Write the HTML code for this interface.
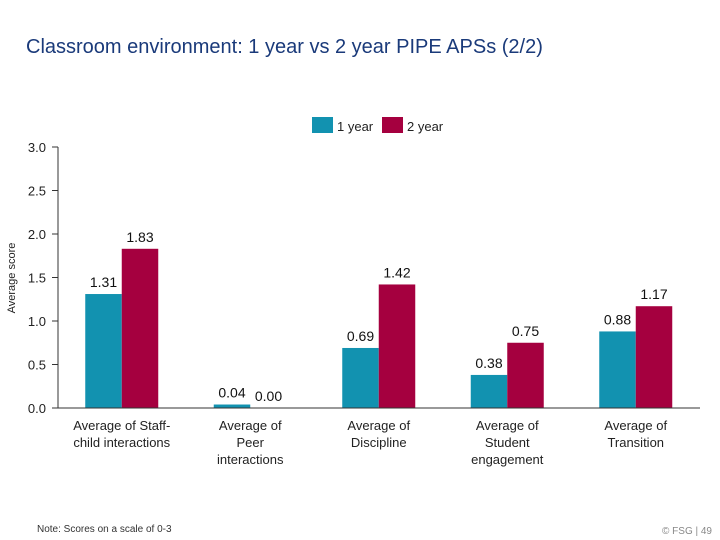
<!DOCTYPE html>
<html><head><meta charset="utf-8"><style>
body{margin:0;background:#fff;font-family:"Liberation Sans",sans-serif}
#c{position:relative;width:720px;height:540px;overflow:hidden}
</style></head><body>
<div id="c">
<svg id="s" width="720" height="540" xmlns="http://www.w3.org/2000/svg">
<text x="26" y="53" font-size="20" fill="#1a3a7a" font-family="Liberation Sans">Classroom environment: 1 year vs 2 year PIPE APSs (2/2)</text>
<rect x="312" y="117" width="21" height="16" fill="#1292b0"/>
<text x="337" y="131" font-size="13" fill="#222">1 year</text>
<rect x="382" y="117" width="21" height="16" fill="#a5003f"/>
<text x="407" y="131" font-size="13" fill="#222">2 year</text>
<text transform="translate(15,278) rotate(-90)" text-anchor="middle" font-size="11" fill="#222">Average score</text>
<g id="plot"></g>
<text x="37" y="532" font-size="10" fill="#333">Note: Scores on a scale of 0-3</text>
<text x="712" y="534" text-anchor="end" font-size="10" fill="#888">© FSG  |  49</text>
</svg></div>
<script>
const categories=[["Average of Staff-","child interactions"],["Average of","Peer","interactions"],["Average of","Discipline"],["Average of","Student","engagement"],["Average of","Transition"]];
const oneYear=[1.31,0.04,0.69,0.38,0.88];
const twoYear=[1.83,0.00,1.42,0.75,1.17];
const yTicks=[0,0.5,1.0,1.5,2.0,2.5,3.0];
const ns="http://www.w3.org/2000/svg";
const g=document.getElementById('plot');
const x0=57.5,x1=700,y0=408,y3=147,yMax=3;
const band=(x1-x0)/categories.length;
function y(v){return y0-(v/yMax)*(y0-y3);}
function bx(i){return x0+band*i+band/2;}
function mk(t,a){const e=document.createElementNS(ns,t);for(const k in a)e.setAttribute(k,a[k]);g.appendChild(e);return e;}
let ax=mk('line',{x1:58,x2:58,y1:y3,y2:y0,stroke:'#333','stroke-width':1});


yTicks.forEach(t=>{
 let l=mk('line',{x1:52,x2:58,y1:y(t),y2:y(t),stroke:'#333'});
 
 
 let tx=mk('text',{x:46,y:y(t)+5,'text-anchor':'end','font-size':13,fill:'#222'});
 tx.textContent=t.toFixed(1);
 
 
});
const bw=36.5;
categories.forEach((c,i)=>{
 const cx=bx(i);
 [[oneYear[i],cx-bw,'#1292b0','1-year'],[twoYear[i],cx,'#a5003f','2-year']].forEach(([v,x,col,n])=>{
  let r=mk('rect',{x:x,y:y(v),width:bw,height:y0-y(v),fill:col});
  
  
  let t=mk('text',{x:x+bw/2,y:y(v)-7,'text-anchor':'middle','font-size':14,fill:'#111'});
  t.textContent=v.toFixed(2);
  
  
 });
 c.forEach((line,j)=>{
  let t=mk('text',{x:cx,y:430+j*17,'text-anchor':'middle','font-size':13,fill:'#222'});
  t.textContent=line;
  
  
 });
});
let xa=mk('line',{x1:58,x2:x1,y1:y0,y2:y0,stroke:'#333'});


</script>
</body></html>
